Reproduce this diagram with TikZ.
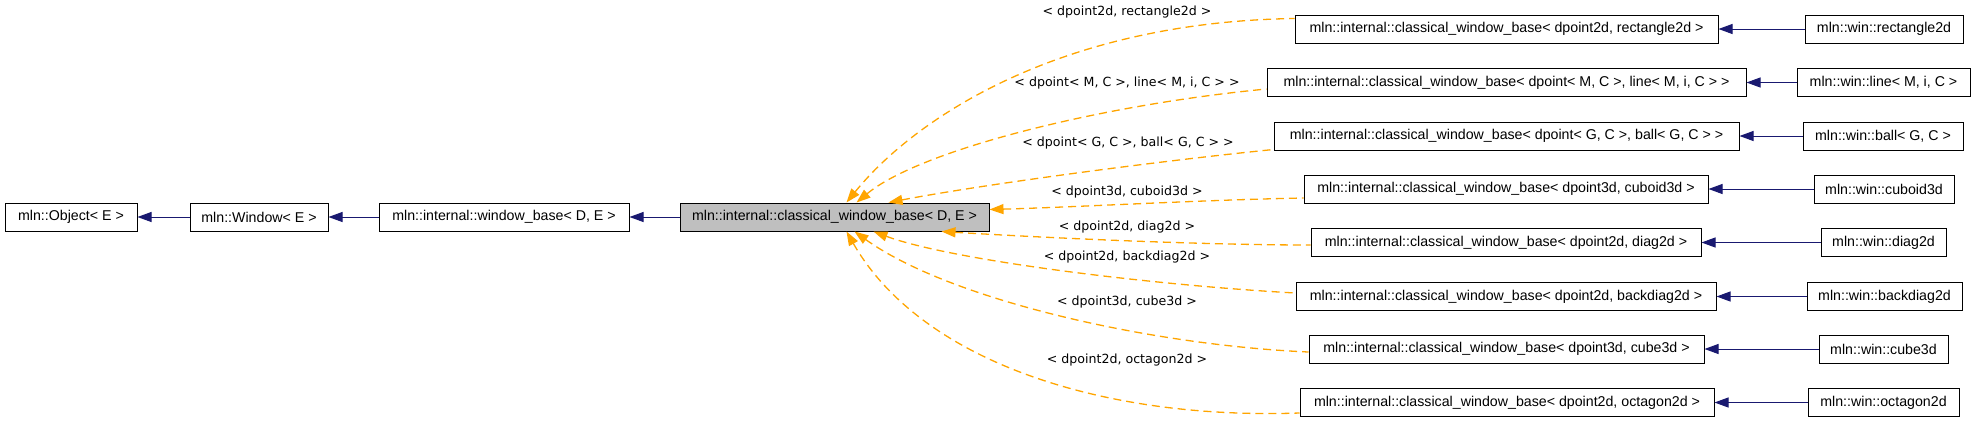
\documentclass[tikz,border=0pt]{standalone}
\usepackage{fontspec}
\setmainfont{Liberation Sans}
\newfontfamily\lblfont{DejaVu Sans}
\usetikzlibrary{arrows.meta}
\definecolor{navy}{HTML}{191970}
\definecolor{orng}{HTML}{FFA500}
\definecolor{grayfill}{HTML}{BFBFBF}
\begin{document}
\begin{tikzpicture}[x=1pt,y=-1pt,
  box/.style={draw=black, line width=1pt, inner sep=0pt, minimum height=28pt, font=\fontsize{14.2}{17}\selectfont, anchor=center},
  inh/.style={draw=navy, line width=1pt, {Triangle[length=14pt,width=10pt]}-},
  tmpl/.style={draw=orng, line width=1.3pt, dash pattern=on 8pt off 5pt, {Triangle[length=14pt,width=10pt]}-},
  lbl/.style={font=\lblfont\fontsize{12.6}{15}\selectfont, inner sep=0pt}
]
\useasboundingbox (0,0) rectangle (1976,424);
% left chain
\node[box, minimum width=132pt] (obj) at (71,217) {mln::Object< E >};
\node[box, minimum width=138pt] (win) at (259,217) {mln::Window< E >};
\node[box, minimum width=250pt] (wb) at (504,217) {mln::internal::window\_base< D, E >};
\node[box, minimum width=309pt, fill=grayfill] (g) at (834.5,217) {mln::internal::classical\_window\_base< D, E >};
\draw[inh] (obj) -- (win);
\draw[inh] (win) -- (wb);
\draw[inh] (wb) -- (g);
% instances
\node[box, minimum width=423pt] (i1) at (1506.5,29) {mln::internal::classical\_window\_base< dpoint2d, rectangle2d >};
\node[box, minimum width=479pt] (i2) at (1506.5,82.5) {mln::internal::classical\_window\_base< dpoint< M, C >, line< M, i, C > >};
\node[box, minimum width=465pt] (i3) at (1506.5,136) {mln::internal::classical\_window\_base< dpoint< G, C >, ball< G, C > >};
\node[box, minimum width=404pt] (i4) at (1506,189) {mln::internal::classical\_window\_base< dpoint3d, cuboid3d >};
\node[box, minimum width=390pt] (i5) at (1506,242.5) {mln::internal::classical\_window\_base< dpoint2d, diag2d >};
\node[box, minimum width=420pt] (i6) at (1506,296.5) {mln::internal::classical\_window\_base< dpoint2d, backdiag2d >};
\node[box, minimum width=395pt] (i7) at (1506.5,349) {mln::internal::classical\_window\_base< dpoint3d, cube3d >};
\node[box, minimum width=414pt] (i8) at (1507,402.5) {mln::internal::classical\_window\_base< dpoint2d, octagon2d >};
% leaves
\node[box, minimum width=158pt] (w1) at (1884,29) {mln::win::rectangle2d};
\node[box, minimum width=173pt] (w2) at (1883.5,82.5) {mln::win::line< M, i, C >};
\node[box, minimum width=160pt] (w3) at (1883,136) {mln::win::ball< G, C >};
\node[box, minimum width=140pt] (w4) at (1884,189) {mln::win::cuboid3d};
\node[box, minimum width=125pt] (w5) at (1883.5,242.5) {mln::win::diag2d};
\node[box, minimum width=155pt] (w6) at (1884.5,296.5) {mln::win::backdiag2d};
\node[box, minimum width=129pt] (w7) at (1883.5,349) {mln::win::cube3d};
\node[box, minimum width=151pt] (w8) at (1883.5,402.5) {mln::win::octagon2d};
\foreach \k in {1,...,8} {\draw[inh] (i\k) -- (w\k);}
% template edges
\draw[tmpl] ([xshift=167pt]g.north west) .. controls (915,118) and (1060,22) .. ([yshift=-4pt]i1.north west);
\draw[tmpl] ([xshift=177pt]g.north west) .. controls (920,150) and (1100,105) .. ([yshift=-6.5pt]i2.west);
\draw[tmpl] ([xshift=209pt]g.north west) .. controls (980,185) and (1150,162) .. ([yshift=1pt]i3.south west);
\draw[tmpl] ([yshift=-7pt]g.north east) .. controls (1080,207) and (1200,200) .. ([yshift=-9pt]i4.west);
\draw[tmpl] ([xshift=262pt]g.south west) .. controls (1050,238) and (1200,245) .. ([yshift=-2.5pt]i5.west);
\draw[tmpl] ([xshift=194pt]g.south west) .. controls (950,260) and (1150,285) .. ([yshift=3.5pt]i6.west);
\draw[tmpl] ([xshift=175pt]g.south west) .. controls (950,300) and (1150,345) .. ([yshift=-3pt]i7.west);
\draw[tmpl] ([xshift=167pt]g.south west) .. controls (920,360) and (1100,420) .. ([yshift=4pt]i8.south west);
% labels
\node[lbl] (l1) at (1127,12) {< dpoint2d, rectangle2d >};
\node[lbl] (l2) at (1127,83) {< dpoint< M, C >, line< M, i, C > >};
\node[lbl] (l3) at (1128,143) {< dpoint< G, C >, ball< G, C > >};
\node[lbl] (l4) at (1127,192) {< dpoint3d, cuboid3d >};
\node[lbl] (l5) at (1127,227) {< dpoint2d, diag2d >};
\node[lbl] (l6) at (1127,257) {< dpoint2d, backdiag2d >};
\node[lbl] (l7) at (1127,302) {< dpoint3d, cube3d >};
\node[lbl] (l8) at (1127,360) {< dpoint2d, octagon2d >};
\end{tikzpicture}
\end{document}
